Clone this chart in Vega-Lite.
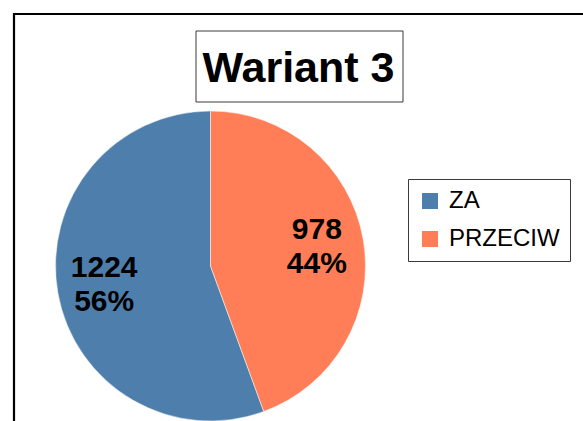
{
  "$schema": "https://vega.github.io/schema/vega-lite/v6.json",
  "width": 569,
  "height": 407,
  "autosize": {"type": "none"},
  "padding": {"left": 14, "top": 14, "right": 0, "bottom": 0},
  "background": "#ffffff",
  "config": {
    "view": {"stroke": null},
    "font": "Liberation Sans",
    "legend": {
      "orient": "none",
      "legendX": 394,
      "legendY": 165,
      "strokeColor": "#3a3a3a",
      "strokeWidth": 1,
      "padding": 10,
      "symbolType": "square",
      "symbolSize": 256,
      "symbolStrokeWidth": 0,
      "labelFont": "Liberation Sans",
      "labelFontSize": 24,
      "labelColor": "#000000",
      "labelOffset": 7,
      "rowPadding": 14
    }
  },
  "data": {
    "values": [
      {"category": "ZA", "value": 1224, "label": "1224\n56%"},
      {"category": "PRZECIW", "value": 978, "label": "978\n44%"}
    ]
  },
  "layer": [
    {
      "data": {"values": [{}]},
      "mark": {"type": "rect", "fill": null, "stroke": "#000000", "strokeWidth": 2.2},
      "encoding": {
        "x": {"datum": 0, "type": "quantitative", "scale": {"domain": [0, 569], "nice": false, "zero": false}, "axis": null},
        "x2": {"datum": 620},
        "y": {"datum": 0, "type": "quantitative", "scale": {"domain": [0, 407], "nice": false, "zero": false, "reverse": true}, "axis": null},
        "y2": {"datum": 460}
      }
    },
    {
      "data": {"values": [{}]},
      "mark": {"type": "rect", "fill": "#ffffff", "stroke": "#3a3a3a", "strokeWidth": 1},
      "encoding": {
        "x": {"datum": 182, "type": "quantitative", "axis": null},
        "x2": {"datum": 389},
        "y": {"datum": 17, "type": "quantitative", "axis": null},
        "y2": {"datum": 88}
      }
    },
    {
      "data": {"values": [{"t": "Wariant 3"}]},
      "mark": {"type": "text", "font": "Liberation Sans", "fontSize": 43, "fontWeight": "bold", "align": "center", "baseline": "alphabetic", "color": "#000000"},
      "encoding": {
        "x": {"datum": 284.5, "type": "quantitative", "axis": null},
        "y": {"datum": 68, "type": "quantitative", "axis": null},
        "text": {"field": "t", "type": "nominal"}
      }
    },
    {
      "mark": {"type": "arc", "outerRadius": 155, "stroke": "#ffffff", "strokeWidth": 0.5},
      "encoding": {
        "x": {"datum": 196.5, "type": "quantitative", "axis": null},
        "y": {"datum": 252, "type": "quantitative", "axis": null},
        "theta": {"field": "value", "type": "quantitative", "stack": true},
        "order": {"field": "category", "type": "ordinal", "sort": "ascending"},
        "color": {
          "field": "category",
          "type": "nominal",
          "scale": {"domain": ["ZA", "PRZECIW"], "range": ["#4e7fac", "#ff7e58"]},
          "legend": {"title": null}
        }
      }
    },
    {
      "mark": {"type": "text", "radius": 108, "dy": -17, "font": "Liberation Sans", "fontSize": 30, "fontWeight": "bold", "lineBreak": "\n", "lineHeight": 34, "align": "center", "baseline": "middle", "color": "#000000"},
      "encoding": {
        "x": {"datum": 196.5, "type": "quantitative", "axis": null},
        "y": {"datum": 252, "type": "quantitative", "axis": null},
        "theta": {"field": "value", "type": "quantitative", "stack": true},
        "order": {"field": "category", "type": "ordinal", "sort": "ascending"},
        "text": {"field": "label", "type": "nominal"}
      }
    }
  ]
}
